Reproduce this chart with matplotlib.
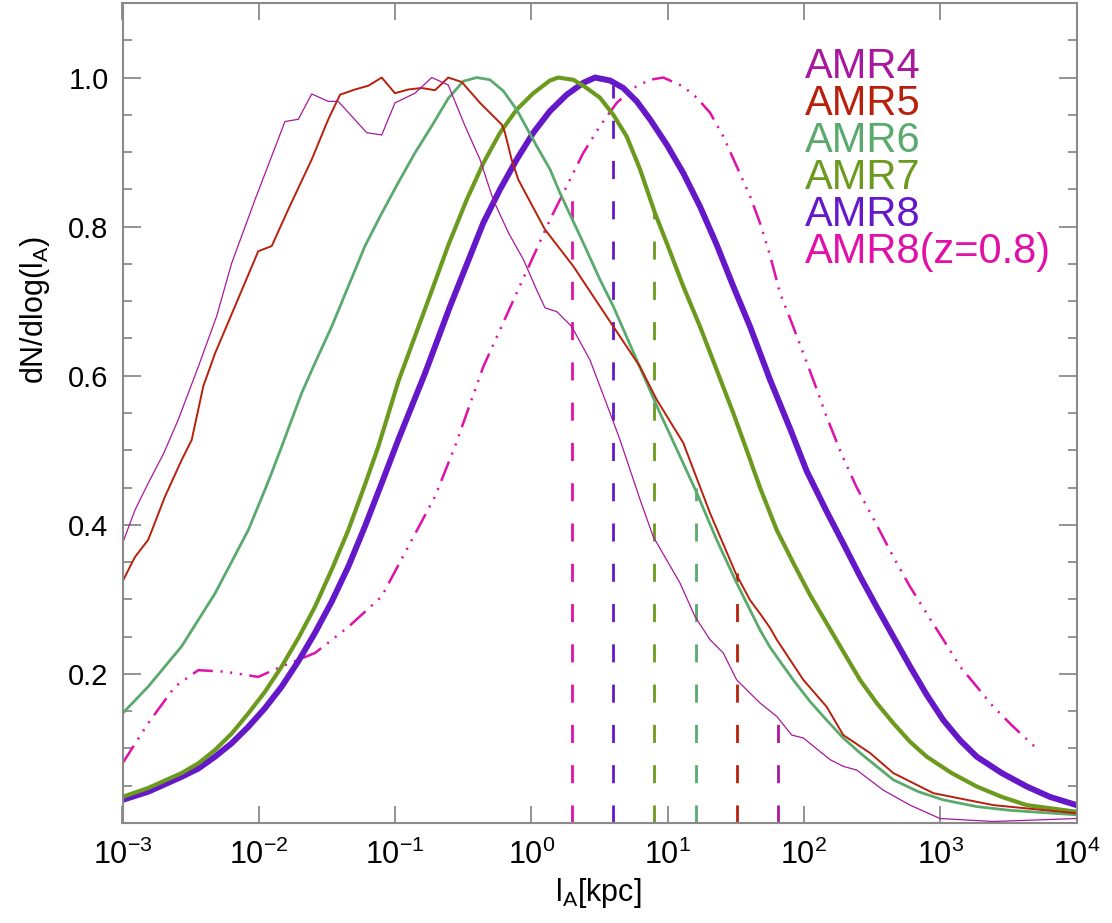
import numpy as np
import matplotlib
matplotlib.use('Agg')
import matplotlib.pyplot as plt
from matplotlib.ticker import FixedLocator, NullLocator, FixedFormatter, MultipleLocator

plt.rcParams['font.family'] = ['Liberation Sans', 'DejaVu Sans']
plt.rcParams['mathtext.fontset'] = 'custom'
plt.rcParams['mathtext.rm'] = 'Liberation Sans'
plt.rcParams['mathtext.it'] = 'Liberation Sans'
plt.rcParams['mathtext.default'] = 'regular'
plt.rcParams['lines.scale_dashes'] = False

# ---------------- data (log10 of l_A in kpc, and dN/dlog(l_A)) ----------------
series_names = ["AMR4", "AMR5", "AMR6", "AMR7", "AMR8", "AMR8(z=0.8)"]
series_colors = ["#a8189c", "#b8200c", "#5aaa6e", "#6b9a1e", "#6418c8", "#e010a8"]

amr4_log_l = [-3.0, -2.908, -2.811, -2.70, -2.591, -2.444, -2.309, -2.199, -2.028, -1.808,
              -1.710, -1.612, -1.490, -1.417, -1.208, -1.098, -1.001, -0.854, -0.731, -0.610,
              -0.487, -0.377, -0.280, -0.169, -0.059, 0.039, 0.100, 0.186, 0.296, 0.430,
              0.577, 0.650, 0.797, 0.894, 1.090, 1.200, 1.310, 1.408, 1.506, 1.677,
              1.800, 1.910, 1.995, 2.191, 2.288, 2.387, 2.582, 2.778, 2.998, 3.389, 4.0]
amr4_val = [0.375, 0.42, 0.456, 0.495, 0.541, 0.612, 0.680, 0.751, 0.836, 0.941,
            0.944, 0.978, 0.968, 0.968, 0.926, 0.923, 0.966, 0.979, 1.0, 0.99,
            0.935, 0.89, 0.836, 0.792, 0.756, 0.715, 0.691, 0.686, 0.666, 0.621,
            0.550, 0.514, 0.434, 0.384, 0.322, 0.277, 0.246, 0.228, 0.192, 0.161,
            0.143, 0.118, 0.114, 0.085, 0.076, 0.071, 0.044, 0.024, 0.006, 0.002, 0.006]

amr5_log_l = [-3.0, -2.908, -2.811, -2.688, -2.566, -2.492, -2.407, -2.321, -2.175, -2.004,
              -1.905, -1.784, -1.612, -1.490, -1.404, -1.294, -1.197, -1.098, -1.001, -0.903,
              -0.805, -0.707, -0.610, -0.511, -0.377, -0.218, -0.194, -0.145, -0.096, 0.100,
              0.307, 0.601, 0.797, 0.919, 1.114, 1.310, 1.499, 1.604, 1.677, 1.750,
              1.800, 1.995, 2.166, 2.288, 2.484, 2.655, 2.949, 3.389, 4.0]
amr5_val = [0.324, 0.357, 0.380, 0.438, 0.487, 0.514, 0.586, 0.630, 0.693, 0.767,
            0.774, 0.823, 0.890, 0.944, 0.977, 0.984, 0.989, 1.0, 0.979, 0.984,
            0.986, 0.983, 1.0, 0.994, 0.966, 0.937, 0.926, 0.890, 0.863, 0.796,
            0.747, 0.666, 0.612, 0.568, 0.510, 0.416, 0.335, 0.299, 0.281, 0.262,
            0.246, 0.192, 0.156, 0.118, 0.094, 0.067, 0.040, 0.024, 0.013]

amr6_log_l = [-3.0, -2.811, -2.566, -2.321, -2.077, -1.955, -1.905, -1.832, -1.685, -1.588,
              -1.465, -1.343, -1.221, -1.098, -0.977, -0.854, -0.731, -0.610, -0.500, -0.401,
              -0.304, -0.206, -0.108, 0.039, 0.136, 0.210, 0.381, 0.503, 0.601, 0.773,
              0.943, 1.017, 1.090, 1.213, 1.359, 1.506, 1.677, 1.750, 1.800, 1.921,
              2.044, 2.166, 2.288, 2.411, 2.533, 2.655, 2.839, 3.022, 3.267, 3.511, 4.0]
amr6_val = [0.147, 0.183, 0.237, 0.308, 0.393, 0.447, 0.470, 0.505, 0.577, 0.617,
            0.666, 0.720, 0.774, 0.818, 0.859, 0.899, 0.935, 0.972, 0.995, 1.0,
            0.997, 0.982, 0.957, 0.908, 0.877, 0.845, 0.778, 0.729, 0.693, 0.621,
            0.550, 0.521, 0.492, 0.443, 0.380, 0.322, 0.259, 0.236, 0.223, 0.192,
            0.163, 0.138, 0.114, 0.094, 0.076, 0.058, 0.042, 0.031, 0.022, 0.017, 0.011]

amr7_log_l = [-3.0, -2.811, -2.566, -2.444, -2.321, -2.199, -2.077, -1.955, -1.832, -1.710,
              -1.588, -1.465, -1.343, -1.221, -1.123, -0.977, -0.854, -0.731, -0.610, -0.475,
              -0.353, -0.230, -0.108, 0.014, 0.136, 0.197, 0.307, 0.381, 0.503, 0.601,
              0.699, 0.797, 0.907, 0.993, 1.114, 1.237, 1.359, 1.481, 1.580, 1.677,
              1.800, 1.921, 2.044, 2.166, 2.288, 2.411, 2.533, 2.655, 2.778, 2.900,
              3.083, 3.267, 3.451, 3.634, 4.0]
amr7_val = [0.035, 0.047, 0.067, 0.080, 0.098, 0.120, 0.147, 0.176, 0.210, 0.248,
            0.290, 0.340, 0.393, 0.454, 0.505, 0.592, 0.653, 0.714, 0.775, 0.836,
            0.885, 0.926, 0.957, 0.979, 0.996, 1.0, 0.997, 0.989, 0.973, 0.950,
            0.921, 0.877, 0.818, 0.778, 0.720, 0.666, 0.608, 0.550, 0.500, 0.450,
            0.393, 0.349, 0.306, 0.268, 0.230, 0.192, 0.161, 0.134, 0.109, 0.089,
            0.067, 0.049, 0.035, 0.024, 0.015]

amr8_log_l = [-3.0, -2.811, -2.566, -2.444, -2.321, -2.199, -2.077, -1.955, -1.832, -1.710,
              -1.588, -1.465, -1.343, -1.221, -1.098, -0.977, -0.781, -0.597, -0.475, -0.353,
              -0.230, -0.108, 0.014, 0.136, 0.259, 0.381, 0.467, 0.577, 0.674, 0.773,
              0.870, 0.993, 1.114, 1.237, 1.359, 1.481, 1.604, 1.750, 1.900, 2.020,
              2.093, 2.166, 2.288, 2.411, 2.533, 2.655, 2.778, 2.900, 3.022, 3.145,
              3.267, 3.451, 3.634, 3.805, 4.0]
amr8_val = [0.031, 0.042, 0.062, 0.073, 0.089, 0.107, 0.129, 0.154, 0.183, 0.217,
            0.255, 0.297, 0.344, 0.398, 0.456, 0.514, 0.603, 0.693, 0.749, 0.805,
            0.850, 0.890, 0.926, 0.955, 0.977, 0.993, 1.0, 0.996, 0.986, 0.968,
            0.944, 0.910, 0.872, 0.827, 0.776, 0.720, 0.666, 0.595, 0.528, 0.472,
            0.445, 0.418, 0.375, 0.331, 0.290, 0.250, 0.210, 0.172, 0.138, 0.111,
            0.089, 0.067, 0.049, 0.035, 0.024]

amr8z_log_l = [-3.0, -2.811, -2.615, -2.444, -2.248, -2.004, -1.832, -1.588, -1.343, -1.098,
               -0.903, -0.707, -0.561, -0.353, -0.108, 0.136, 0.381, 0.503, 0.626, 0.748,
               0.870, 0.968, 1.114, 1.213, 1.310, 1.408, 1.506, 1.604, 1.677, 1.750,
               1.824, 1.910, 1.995, 2.081, 2.166, 2.277, 2.387, 2.533, 2.655, 2.778,
               2.900, 3.022, 3.145, 3.267, 3.389, 3.536, 3.695]
amr8z_val = [0.080, 0.134, 0.183, 0.205, 0.203, 0.196, 0.210, 0.228, 0.263, 0.304,
             0.371, 0.438, 0.505, 0.612, 0.711, 0.809, 0.899, 0.935, 0.966, 0.986,
             0.997, 1.0, 0.988, 0.973, 0.953, 0.921, 0.881, 0.841, 0.805, 0.762,
             0.711, 0.671, 0.630, 0.588, 0.545, 0.494, 0.450, 0.400, 0.357, 0.317,
             0.281, 0.246, 0.210, 0.183, 0.156, 0.129, 0.102]

# vertical dashed markers (kpc) and their heights
marker_l = [2, 4, 8, 16, 32, 64]
marker_top = [0.86, 0.99, 0.82, 0.45, 0.335, 0.14]
marker_colors = ["#e010a8", "#6418c8", "#6b9a1e", "#5aaa6e", "#b8200c", "#a8189c"]

x_tick_exponents = [-3, -2, -1, 0, 1, 2, 3, 4]
y_major_ticks = [0.2, 0.4, 0.6, 0.8, 1.0]
y_tick_labels = ["0.2", "0.4", "0.6", "0.8", "1.0"]

# ---------------- figure ----------------
W, H = 1112, 923
fig = plt.figure(figsize=(W / 100, H / 100), dpi=100)
ax = fig.add_axes([122.5 / W, 1 - 823 / H, (1076.6 - 122.5) / W, (823 - 3) / H])

grey = "#8a8a8a"

# vertical dashed lines
for xl, top, c in zip(marker_l, marker_top, marker_colors):
    ax.plot([xl, xl], [0, top], color=c, lw=2.0, dashes=(13, 16), solid_capstyle='butt')

series = [
    (amr4_log_l, amr4_val, 0.9, None),
    (amr5_log_l, amr5_val, 1.4, None),
    (amr6_log_l, amr6_val, 2.0, None),
    (amr7_log_l, amr7_val, 3.0, None),
    (amr8_log_l, amr8_val, 4.3, None),
    (amr8z_log_l, amr8z_val, 1.8, (15, 5.5, 1.5, 5.5, 1.5, 5.5, 1.5, 5.5)),
]
order = [5, 4, 3, 2, 1, 0]
for i in order:
    lx, v, lw, dsh = series[i]
    xs = 10 ** np.asarray(lx)
    kw = dict(color=series_colors[i], lw=lw, solid_joinstyle='round')
    if dsh is not None:
        kw['dashes'] = dsh
    ax.plot(xs, v, **kw)

ax.set_xscale('log')
ax.set_xlim(1e-3, 1e4)
ax.set_ylim(0, 1.10)

ax.xaxis.set_major_locator(FixedLocator([10.0 ** e for e in x_tick_exponents]))
ax.xaxis.set_minor_locator(NullLocator())
ax.xaxis.set_major_formatter(FixedFormatter([r'$10^{%d}$' % e for e in x_tick_exponents]))
ax.yaxis.set_major_locator(FixedLocator(y_major_ticks))
ax.yaxis.set_major_formatter(FixedFormatter(y_tick_labels))
ax.yaxis.set_minor_locator(MultipleLocator(0.05))

ax.tick_params(which='both', direction='in', top=True, right=True, color=grey,
               width=1.3, labelcolor='black')
ax.tick_params(axis='x', which='major', length=12, labelsize=22, pad=12)
ax.tick_params(axis='y', which='major', length=13, labelsize=21, pad=10)
ax.tick_params(axis='y', which='minor', length=6.5)
for s in ax.spines.values():
    s.set_color(grey)
    s.set_linewidth(1.5)

fig.text(598 / W, 1 - 893 / H, r'l$_A$[kpc]', ha='center', va='center', fontsize=22)
fig.text(35 / W, 1 - 310 / H, r'dN/dlog(l$_A$)', ha='center', va='center',
         fontsize=22, rotation=90)

# legend text
for i, (name, c) in enumerate(zip(series_names, series_colors)):
    fig.text(805 / W, 1 - (78.3 + 37 * i) / H, name, color=c, fontsize=30,
             ha='left', va='baseline')

fig.savefig('out.png', dpi=100)
